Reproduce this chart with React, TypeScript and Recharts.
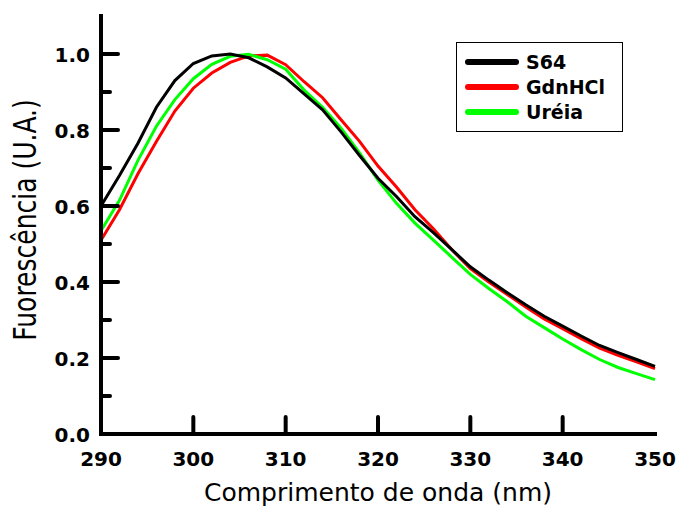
import React from "react";
import { LineChart, Line, XAxis, YAxis, Legend } from "recharts";

// comprimento de onda (nm)
const wavelength = [
  290, 292, 294, 296, 298, 300, 302, 304, 306, 308, 310, 312, 314, 316, 318, 320,
  322, 324, 326, 328, 330, 332, 334, 336, 338, 340, 342, 344, 346, 348, 350,
];

const s64 = [
  0.6, 0.68, 0.765, 0.86, 0.93, 0.975, 0.995, 1.0, 0.99, 0.966, 0.937, 0.895, 0.853,
  0.795, 0.733, 0.673, 0.625, 0.572, 0.53, 0.485, 0.44, 0.405, 0.372, 0.34, 0.31, 0.284,
  0.258, 0.233, 0.214, 0.196, 0.178,
];

const gdnhcl = [
  0.51, 0.59, 0.685, 0.77, 0.85, 0.91, 0.95, 0.978, 0.995, 0.997, 0.972, 0.927, 0.885,
  0.827, 0.77, 0.705, 0.65, 0.59, 0.54, 0.485, 0.435, 0.4, 0.367, 0.334, 0.303, 0.277,
  0.251, 0.226, 0.207, 0.19, 0.172,
];

const ureia = [
  0.535, 0.615, 0.72, 0.81, 0.88, 0.935, 0.973, 0.994, 0.999, 0.985, 0.96, 0.905, 0.86,
  0.805, 0.74, 0.668, 0.607, 0.555, 0.51, 0.465, 0.42, 0.383, 0.348, 0.31, 0.28, 0.25,
  0.222, 0.196, 0.175, 0.159, 0.143,
];

const xTicks = [290, 300, 310, 320, 330, 340, 350];
const yTicks = [0, 0.1, 0.2, 0.3, 0.4, 0.5, 0.6, 0.7, 0.8, 0.9, 1.0];
const legendOrder = ["S64", "GdnHCl", "Uréia"];

const data = wavelength.map((nm, i) => ({
  nm,
  S64: s64[i],
  GdnHCl: gdnhcl[i],
  "Uréia": ureia[i],
}));

const colors: Record<string, string> = {
  S64: "#000000",
  GdnHCl: "#ff0000",
  "Uréia": "#00ff00",
};

const tickFont = {
  fontFamily: "DejaVu Sans",
  fontWeight: "bold" as const,
  fontSize: 20,
  fill: "#000",
};

const isMajorY = (v: number) => Math.round(v * 10) % 2 === 0;
const isEdgeX = (v: number) => v === 290 || v === 350;

const frame = { stroke: "#000", strokeWidth: 4, strokeLinecap: "square" as const };

// inward tick marks, rounded ends
const tickStyle = { stroke: "#000", strokeWidth: 4, strokeLinecap: "round" as const, fill: "none" };

const BottomTick = (props: any) => {
  const { x, y, payload } = props;
  return (
    <g>
      {!isEdgeX(payload.value) && <path d={`M${x},${y - 2} V${y - 17}`} {...tickStyle} />}
      <text x={x} y={y + 32} textAnchor="middle" {...tickFont}>
        {payload.value}
      </text>
    </g>
  );
};

const TopTick = (props: any) => {
  const { x, y, payload } = props;
  if (isEdgeX(payload.value)) return <g />;
  return <path d={`M${x},${y + 2} V${y + 17}`} {...tickStyle} />;
};

const LeftTick = (props: any) => {
  const { x, y, payload } = props;
  const major = isMajorY(payload.value);
  return (
    <g>
      {payload.value > 0 && <path d={`M${x + 2},${y} H${x + (major ? 17 : 9)}`} {...tickStyle} />}
      {major && (
        <text x={x - 11} y={y + 8} textAnchor="end" {...tickFont}>
          {payload.value.toFixed(1)}
        </text>
      )}
    </g>
  );
};

const RightTick = (props: any) => {
  const { x, y, payload } = props;
  if (payload.value === 0) return <g />;
  return <path d={`M${x - 2},${y} H${x - (isMajorY(payload.value) ? 17 : 9)}`} {...tickStyle} />;
};

const LegendBox = () => (
  <svg width={167} height={90} style={{ display: "block" }}>
    <rect x={0.5} y={0.5} width={166} height={89} fill="#fff" stroke="#000" strokeWidth={1} />
    {legendOrder.map((name, i) => (
      <g key={name}>
        <line
          x1={12}
          x2={60}
          y1={20 + i * 25}
          y2={20 + i * 25}
          stroke={colors[name]}
          strokeWidth={6}
          strokeLinecap="round"
        />
        <text x={70} y={27 + i * 25} fontFamily="DejaVu Sans" fontWeight="bold" fontSize={19} fill="#000">
          {name}
        </text>
      </g>
    ))}
  </svg>
);

export default function App() {
  return (
    <div style={{ position: "absolute", left: 0, top: 0, background: "#fff" }}>
      <LineChart width={680} height={510} data={data} margin={{ top: 16, right: 25, left: 0, bottom: 0 }}>
        <XAxis
          dataKey="nm"
          type="number"
          domain={[290, 350]}
          ticks={xTicks}
          interval={0}
          height={76}
          tickSize={0}
          tickMargin={0}
          tickLine={false}
          axisLine={frame}
          tick={<BottomTick />}
        />
        <XAxis
          xAxisId="top"
          dataKey="nm"
          type="number"
          orientation="top"
          domain={[290, 350]}
          ticks={xTicks}
          interval={0}
          height={0}
          tickSize={0}
          tickMargin={0}
          tickLine={false}
          axisLine={frame}
          tick={<TopTick />}
        />
        <YAxis
          type="number"
          domain={[0, 1.1]}
          ticks={yTicks}
          interval={0}
          width={101}
          tickSize={0}
          tickMargin={0}
          tickLine={false}
          axisLine={frame}
          tick={<LeftTick />}
        />
        <YAxis
          yAxisId="right"
          type="number"
          orientation="right"
          domain={[0, 1.1]}
          ticks={yTicks}
          interval={0}
          width={0}
          tickSize={0}
          tickMargin={0}
          tickLine={false}
          axisLine={frame}
          tick={<RightTick />}
        />
        <Line type="linear" dataKey="GdnHCl" stroke={colors.GdnHCl} strokeWidth={3} dot={false} isAnimationActive={false} />
        <Line type="linear" dataKey="Uréia" stroke={colors["Uréia"]} strokeWidth={3} dot={false} isAnimationActive={false} />
        <Line type="linear" dataKey="S64" stroke={colors.S64} strokeWidth={3} dot={false} isAnimationActive={false} />
        <Legend
          layout="vertical"
          align="center"
          verticalAlign="middle"
          wrapperStyle={{ left: 456, top: 42, width: 167, height: 90 }}
          content={() => <LegendBox />}
        />
        <text x={378} y={501} textAnchor="middle" fontFamily="DejaVu Sans" fontSize={25} fill="#000">
          Comprimento de onda (nm)
        </text>
        <text
          transform="translate(36, 220) rotate(-90) scale(1, 1.3)"
          textAnchor="middle"
          fontFamily="DejaVu Sans"
          fontSize={25}
          fill="#000"
        >
          Fuorescência (U.A.)
        </text>
      </LineChart>
    </div>
  );
}
